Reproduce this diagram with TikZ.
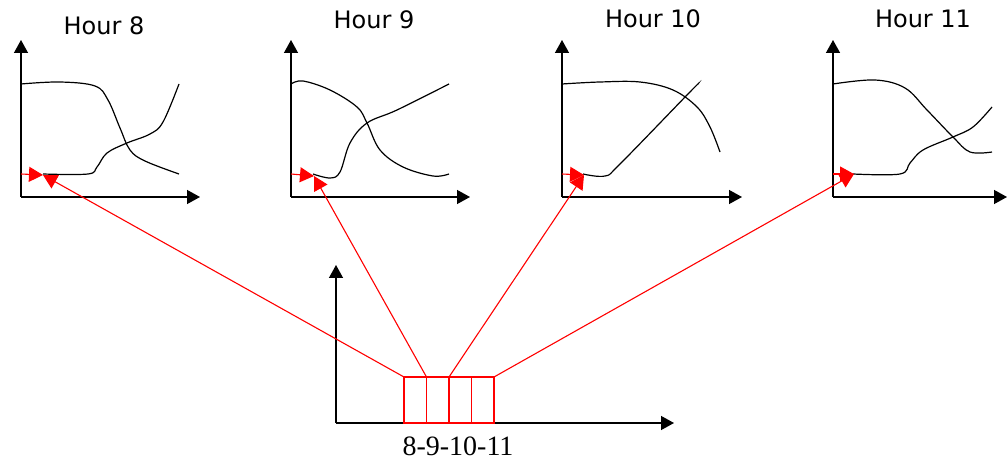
\documentclass[tikz,border=0pt]{standalone}
\usepackage{fontspec}
\setmainfont{Liberation Serif}
\newfontfamily\hourfont{DejaVu Sans}
\usetikzlibrary{positioning, arrows.meta}
\definecolor{linkred}{RGB}{255, 0, 0}
\tikzset{
    axis/.style={line width=1.4pt, -{Triangle[length=13pt, width=14pt]}},
    curve/.style={line width=1.2pt, black},
    link/.style={line width=1.1pt, draw=linkred, -{Triangle[length=14pt, width=15pt]}},
    slot/.style={draw=linkred, line width=1.2pt, rectangle, minimum width=22.5pt, minimum height=46pt, inner sep=0pt, outer sep=0pt},
    title/.style={font=\hourfont\fontsize{24}{28}\selectfont, anchor=base},
    hours/.style={font=\fontsize{28}{32}\selectfont, anchor=base}
}

\begin{document}
\begin{tikzpicture}[x=1pt, y=-1pt]
\useasboundingbox (0,0) rectangle (1007,462);

% Axes of the four hourly plots
\foreach \ox/\tip in {21/200, 291/470, 562/742, 833/1007} {
    \coordinate (o) at (\ox,197);
    \draw[axis] (o) -- (\ox,40);
    \draw[axis] (o) -- (\tip,197);
}

% Titles
\node[title] (t8) at (104,35) {Hour 8};
\node[title] (t9) at (374,29) {Hour 9};
\node[title] (t10) at (653,28) {Hour 10};
\node[title] (t11) at (923,28) {Hour 11};

% Curves
\draw[curve] plot[smooth, tension=0.6] coordinates {(21,84) (60,82) (95,86) (108,100) (120,128) (130,150) (145,161) (179,174)};
\draw[curve] plot[smooth, tension=0.6] coordinates {(43,174) (88,174) (97,167) (107,153) (127,143) (150,134) (163,122) (179,84)};

\draw[curve] plot[smooth, tension=0.6] coordinates {(291,84) (303,81) (330,90) (357,107) (367,123) (380,150) (403,167) (433,176) (449,174)};
\draw[curve] plot[smooth, tension=0.6] coordinates {(313,174) (330,178) (340,172) (350,143) (367,123) (397,110) (449,84)};

\draw[curve] plot[smooth, tension=0.6] coordinates {(562,84) (600,82) (640,82) (673,90) (697,107) (710,127) (720,152)};
\draw[curve] plot[smooth, tension=0.6] coordinates {(583,174) (605,176) (620,164) (687,95) (698,84)};

\draw[curve] plot[smooth, tension=0.6] coordinates {(833,84) (875,80) (905,88) (927,110) (953,137) (970,152) (992,152)};
\draw[curve] plot[smooth, tension=0.6] coordinates {(853,174) (900,174) (910,163) (923,150) (953,137) (973,127) (992,107)};

% Marked points on the curves
\coordinate (p8) at (43,175);
\coordinate (p9) at (314,176);
\coordinate (p10) at (584,175);
\coordinate (p11) at (854,174);

% Short markers on the vertical axes
\draw[link] (21,174) -- (p8);
\draw[link] (291,174) -- (p9);
\draw[link] (562,174) -- (p10);
\draw[link] (833,174) -- (p11);

% Combined plot
\coordinate (c) at (336,423);
\draw[axis] (c) -- (336,265);
\draw[axis] (c) -- (674,423);

\node[slot, anchor=south west] (b8) at (404,423) {};
\node[slot, right=0pt of b8] (b9) {};
\node[slot, right=0pt of b9] (b10) {};
\node[slot, right=0pt of b10] (b11) {};
\node[hours] (lbl) at (458,455) {8-9-10-11};

% Links
\draw[link] (b8.north west) -- (p8);
\draw[link] (b9.north west) -- (p9);
\draw[link] (b10.north west) -- (p10);
\draw[link] (b11.north east) -- (p11);

\end{tikzpicture}
\end{document}
